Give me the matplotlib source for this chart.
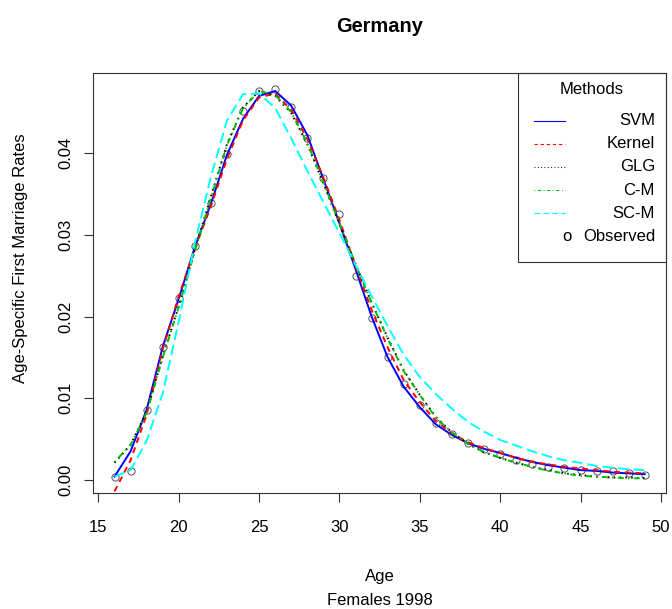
import matplotlib
matplotlib.use('Agg')
import matplotlib.pyplot as plt
from matplotlib.lines import Line2D
from matplotlib.patches import Rectangle

plt.rcParams['font.family'] = ['Liberation Sans', 'DejaVu Sans']

#---------------------------------------------------------#
# Data (Germany, females 1998)
#---------------------------------------------------------#
age = list(range(16, 50))

observed = [0.0003, 0.0011, 0.0086, 0.0163, 0.0223, 0.0286, 0.0339, 0.0399, 0.0452, 0.0476,
            0.0479, 0.0457, 0.0418, 0.0369, 0.0326, 0.0249, 0.0198, 0.0151, 0.0118, 0.0092,
            0.0070, 0.0056, 0.0045, 0.0038, 0.0032, 0.0024, 0.0019, 0.0016, 0.0014, 0.0012,
            0.0011, 0.0011, 0.0008, 0.0006]

svm = [0.0004, 0.0035, 0.0086, 0.0163, 0.0222, 0.0285, 0.0338, 0.0398, 0.0442, 0.0470,
       0.0476, 0.0458, 0.0422, 0.0368, 0.0314, 0.0258, 0.0200, 0.0150, 0.0114, 0.0089,
       0.0068, 0.0055, 0.0045, 0.0038, 0.0033, 0.0027, 0.0022, 0.0018, 0.0015, 0.0012,
       0.0011, 0.0009, 0.0008, 0.0007]

kernel = [-0.0014, 0.0024, 0.0080, 0.0160, 0.0225, 0.0283, 0.0335, 0.0393, 0.0440, 0.0468,
          0.0473, 0.0453, 0.0417, 0.0370, 0.0318, 0.0262, 0.0208, 0.0162, 0.0122, 0.0095,
          0.0072, 0.0057, 0.0046, 0.0039, 0.0033, 0.0027, 0.0022, 0.0019, 0.0016, 0.0014,
          0.0012, 0.0010, 0.0009, 0.0008]

glg = [0.0021, 0.0043, 0.0083, 0.0151, 0.0213, 0.0282, 0.0347, 0.0411, 0.0456, 0.0476,
       0.0470, 0.0449, 0.0411, 0.0363, 0.0313, 0.0264, 0.0217, 0.0174, 0.0134, 0.0104,
       0.0077, 0.0058, 0.0044, 0.0034, 0.0027, 0.0021, 0.0016, 0.0012, 0.0008, 0.0006,
       0.0004, 0.0003, 0.0003, 0.0002]

cm = [0.0022, 0.0043, 0.0082, 0.0150, 0.0212, 0.0280, 0.0345, 0.0410, 0.0455, 0.0476,
      0.0471, 0.0450, 0.0412, 0.0364, 0.0314, 0.0264, 0.0217, 0.0173, 0.0133, 0.0104,
      0.0076, 0.0058, 0.0044, 0.0034, 0.0027, 0.0021, 0.0016, 0.0011, 0.0008, 0.0005,
      0.0004, 0.0003, 0.0002, 0.0002]

scm = [0.0004, 0.0012, 0.0048, 0.0106, 0.0194, 0.0290, 0.0371, 0.0440, 0.0472, 0.0473,
       0.0455, 0.0418, 0.0378, 0.0340, 0.0302, 0.0263, 0.0225, 0.0188, 0.0153, 0.0126,
       0.0105, 0.0087, 0.0071, 0.0059, 0.0049, 0.0042, 0.0035, 0.0029, 0.0024, 0.0021,
       0.0017, 0.0015, 0.0013, 0.0012]

x_ticks = [15, 20, 25, 30, 35, 40, 45, 50]
y_ticks = [0.00, 0.01, 0.02, 0.03, 0.04]
y_tick_labels = ['0.00', '0.01', '0.02', '0.03', '0.04']

methods = ['SVM', 'Kernel', 'GLG', 'C-M', 'SC-M']

#---------------------------------------------------------#
# Figure layout (pixel based, 672 x 609)
#---------------------------------------------------------#
W, H = 672, 609
def fx(px):
    return px / W
def fy(py):
    return 1 - py / H

fig = plt.figure(figsize=(W / 100, H / 100), dpi=100)
ax = fig.add_axes([fx(93.3), fy(493), (666 - 93.3) / W, (493 - 73) / H])

ax_col = '#333333'

# observed points first, lines on top
ax.plot(age, observed, 'o', mfc='none', mec='#555555', ms=5.2, mew=0.7, zorder=2)

styles = {
    'SVM':    dict(color='#0000FF', ls='-'),
    'Kernel': dict(color='#FF0000', ls=(0, (3, 2.5))),
    'GLG':    dict(color='black', ls=(0, (0.8, 2.2))),
    'C-M':    dict(color='#00BF00', ls=(0, (0.8, 2.2, 3, 2.2))),
    'SC-M':   dict(color='#00FFFF', ls=(0, (5.5, 2.5))),
}
series = {'SVM': svm, 'Kernel': kernel, 'GLG': glg, 'C-M': cm, 'SC-M': scm}

for name in methods:
    ax.plot(age, series[name], lw=1.4, zorder=3, **styles[name])

ax.set_xlim(14.68, 50.32)
ax.set_ylim(-0.0016, 0.0498)
ax.set_xticks(x_ticks)
ax.set_xticklabels([str(t) for t in x_ticks])
ax.set_yticks(y_ticks)
ax.set_yticklabels(y_tick_labels, rotation=90, va='center')

ax.tick_params(axis='both', direction='out', length=6.5, width=0.8,
               color=ax_col, labelsize=12, labelcolor='black')
ax.tick_params(axis='x', pad=13)
ax.tick_params(axis='y', pad=8)
for sp in ax.spines.values():
    sp.set_color(ax_col)
    sp.set_linewidth(0.8)

#---------------------------------------------------------#
# Titles and labels
#---------------------------------------------------------#
fig.text(fx(379.7), fy(32), 'Germany', ha='center', va='baseline',
         fontsize=14.4, fontweight='bold')
fig.text(fx(379.7), fy(581.5), 'Age', ha='center', va='baseline', fontsize=12)
fig.text(fx(379.7), fy(605), 'Females 1998', ha='center', va='baseline', fontsize=12)
fig.text(fx(21), fy(258), 'Age-Specific First Marriage Rates', rotation=90,
         ha='center', va='center', fontsize=12)

#---------------------------------------------------------#
# Legend (built by hand to get the right-aligned R look)
#---------------------------------------------------------#
box = Rectangle((fx(518.3), fy(261.7)), (666 - 518.3) / W, (261.7 - 73) / H,
                transform=fig.transFigure, fill=False, ec=ax_col, lw=0.8)
fig.add_artist(box)
fig.text(fx(591.7), fy(90), 'Methods', ha='center', va='center', fontsize=12)

row_y = [120.5, 143.7, 166.9, 190.1, 213.3]
for name, ry in zip(methods, row_y):
    st = dict(styles[name])
    fig.add_artist(Line2D([fx(534), fx(565)], [fy(ry), fy(ry)], lw=0.8,
                          transform=fig.transFigure, **st))
    fig.text(fx(655), fy(ry), name, ha='right', va='center', fontsize=12)

fig.text(fx(566.7), fy(236.5), 'o', ha='center', va='center', fontsize=12)
fig.text(fx(655), fy(236.5), 'Observed', ha='right', va='center', fontsize=12)

fig.savefig('out.png', dpi=100)
